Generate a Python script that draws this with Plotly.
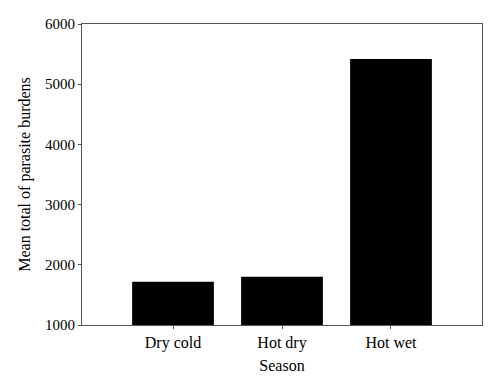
import plotly.graph_objects as go

categories = ["Dry cold", "Hot dry", "Hot wet"]
values = [1720, 1800, 5420]

fig = go.Figure(go.Bar(
    x=categories, y=values, base=0,
    marker=dict(color="black", line=dict(width=0)),
    width=0.75,
))

fam = "Liberation Serif, Times New Roman, serif"
tick_font = dict(family=fam, size=15, color="black")
cat_font = dict(family=fam, size=16, color="black")
title_font = dict(family=fam, size=16, color="black")
axis_common = dict(
    showline=True, linecolor="#555555", linewidth=1.2, mirror=True,
    ticks="outside", tickcolor="#555555", ticklen=3, showgrid=False, zeroline=False,
)
# page body has an 8px margin; compensate so the plot area sits at x 82-482, y 24-325
fig.update_layout(
    width=500, height=388,
    margin=dict(l=74, r=26, t=16, b=71, autoexpand=False),
    paper_bgcolor="white", plot_bgcolor="white",
    showlegend=False,
    font=tick_font,
    xaxis=dict(range=[-0.835, 2.835], tickfont=cat_font,
               title=dict(text="Season", font=title_font, standoff=8), **axis_common),
    yaxis=dict(range=[1000, 6000], tickvals=[1000, 2000, 3000, 4000, 5000, 6000], tickfont=tick_font,
               title=dict(text="Mean total of parasite burdens", font=title_font, standoff=10), **axis_common),
)
fig.write_html("out.html")
